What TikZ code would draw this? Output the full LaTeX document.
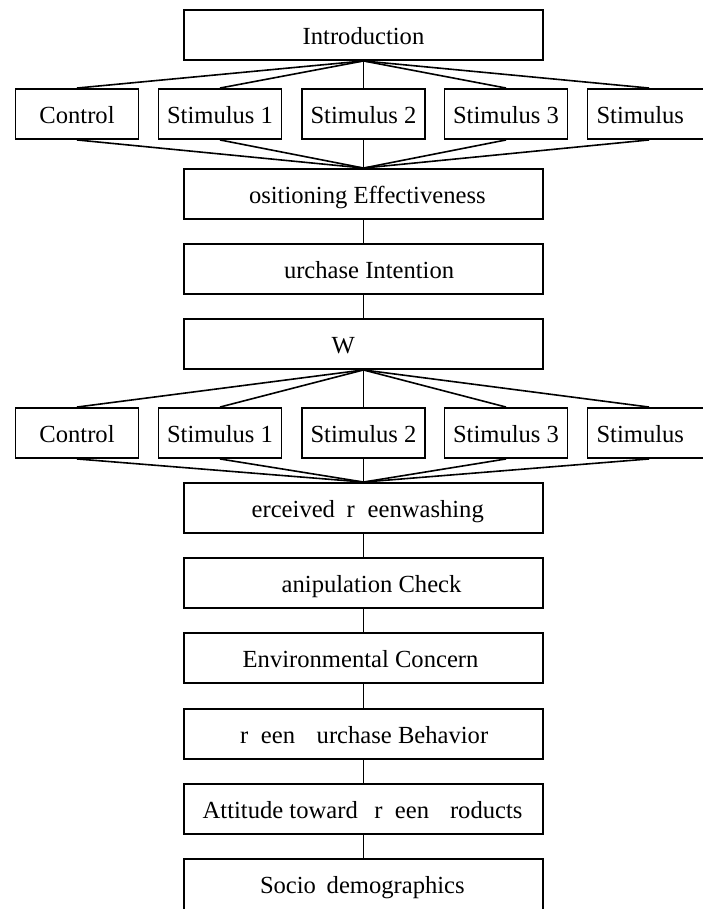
\documentclass[tikz,border=0pt]{standalone}
\usepackage{fontspec}
\setmainfont{Liberation Serif}
\newcommand\tnrsize{\fontsize{24.6pt}{29pt}\selectfont}
\tikzset{
  box/.style={draw, line width=1.9pt, inner sep=0pt, fill=white},
  mainbox/.style={box, minimum width=359pt, minimum height=50pt},
  smallbox/.style={box, minimum width=123pt, minimum height=50pt},
  lbl/.style={inner sep=0pt, outer sep=0pt, font=\tnrsize},
  fan/.style={line width=1.6pt},
  link/.style={line width=1.4pt},
}
\begin{document}
\begin{tikzpicture}[x=1pt, y=-1pt]
\useasboundingbox (0,0) rectangle (702,909);
% main column boxes
\node[mainbox] (intro) at (363.5,35) {};
\node[mainbox] (pos)   at (363.5,194) {};
\node[mainbox] (purch) at (363.5,269) {};
\node[mainbox] (w)     at (363.5,344) {};
\node[mainbox] (perc)  at (363.5,508) {};
\node[mainbox] (manip) at (363.5,583) {};
\node[mainbox] (env)   at (363.5,658) {};
\node[mainbox] (green) at (363.5,734) {};
\node[mainbox] (att)   at (363.5,809) {};
\node[mainbox, minimum height=60pt] (socio) at (363.5,889) {};
% row 1
\node[smallbox] (a1) at (77,114) {};
\node[smallbox] (a2) at (220,114) {};
\node[smallbox] (a3) at (363.5,114) {};
\node[smallbox] (a4) at (506,114) {};
\node[smallbox] (a5) at (649,114) {};
% row 2
\node[smallbox] (b1) at (77,433) {};
\node[smallbox] (b2) at (220,433) {};
\node[smallbox] (b3) at (363.5,433) {};
\node[smallbox] (b4) at (506,433) {};
\node[smallbox] (b5) at (649,433) {};
% connectors: fans
\foreach \n in {a1,a2,a3,a4,a5}{
  \draw[fan] (intro.south) -- (\n.north);
  \draw[fan] (\n.south) -- (pos.north);
}
\foreach \n in {b1,b2,b3,b4,b5}{
  \draw[fan] (w.south) -- (\n.north);
  \draw[fan] (\n.south) -- (perc.north);
}
% vertical links
\draw[link] (pos) -- (purch);
\draw[link] (purch) -- (w);
\draw[link] (perc) -- (manip);
\draw[link] (manip) -- (env);
\draw[link] (env) -- (green);
\draw[link] (green) -- (att);
\draw[link] (att) -- (socio);
% labels
\node[lbl, anchor=base] (tintro) at ([yshift=-9.5pt]intro.center) {Introduction};
\foreach \r in {a,b}{
  \node[lbl, anchor=base] (t\r1) at ([yshift=-9.5pt]\r1.center) {Control};
  \node[lbl, anchor=base] (t\r2) at ([yshift=-9.5pt]\r2.center) {Stimulus 1};
  \node[lbl, anchor=base] (t\r3) at ([yshift=-9.5pt]\r3.center) {Stimulus 2};
  \node[lbl, anchor=base] (t\r4) at ([yshift=-9.5pt]\r4.center) {Stimulus 3};
}
\node[lbl, anchor=base west] (ta5) at (596.5,123.5) {Stimulus};
\node[lbl, anchor=base west] (tb5) at (596.5,442.5) {Stimulus};
\node[lbl, anchor=base west] (tpos) at (249,203.5) {ositioning Effectiveness};
\node[lbl, anchor=base west] (tpurch) at (284,278.5) {urchase Intention};
\node[lbl, anchor=base west] (tw) at (331.7,353.5) {W};
\node[lbl, anchor=base west] (tperc) at (251.7,517.5) {erceived\hspace*{11.7pt}r\hspace*{12.8pt}eenwashing};
\node[lbl, anchor=base west] (tmanip) at (281.7,592.5) {anipulation Check};
\node[lbl, anchor=base west] (tenv) at (242.7,667.5) {Environmental Concern};
\node[lbl, anchor=base west] (tgreen) at (240,743.5) {r\hspace*{12.8pt}een\hspace*{21.6pt}urchase Behavior};
\node[lbl, anchor=base west] (tatt) at (202.7,818.5) {Attitude toward\hspace*{16.5pt}r\hspace*{12.5pt}een\hspace*{20.9pt}roducts};
\node[lbl, anchor=base west] (tsocio) at (260,893.5) {Socio\hspace*{10.7pt}demographics};
\end{tikzpicture}
\end{document}
